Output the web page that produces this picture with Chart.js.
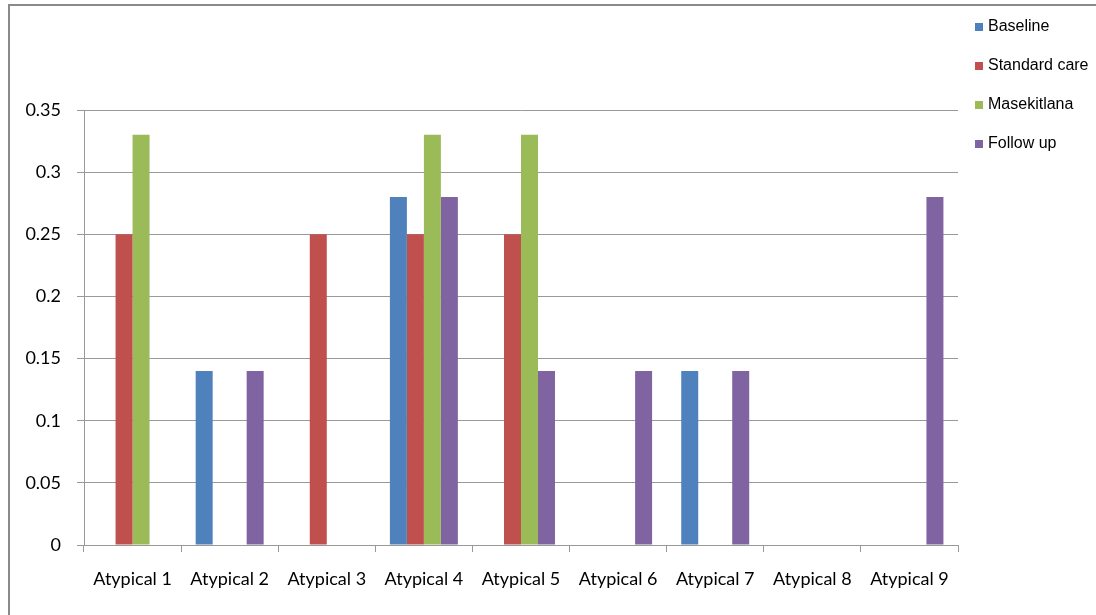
<!DOCTYPE html>
<html>
<head>
<meta charset="utf-8">
<script src="https://cdn.jsdelivr.net/npm/chart.js@4/dist/chart.umd.min.js"></script>
<style>
  html, body { margin: 0; padding: 0; background: #fff; }
  #wrap { position: relative; width: 1096px; height: 615px; overflow: hidden; }
  #frame { position: absolute; left: 8px; top: 4px; width: 1200px; height: 700px; border: 2px solid #8a8a8a; box-sizing: border-box; }
  canvas { position: absolute; left: 0; top: 0; }
  #legend { position: absolute; left: 975px; top: 17px; font-family: "Liberation Sans Narrow", "Liberation Sans", sans-serif; font-size: 16px; color: #000; }
  #legend div { height: 39px; display: flex; align-items: flex-start; white-space: nowrap; }
  #legend span.sw { display: inline-block; width: 8px; height: 8px; margin-right: 5px; margin-top: 6px; }
</style>
</head>
<body>
<div id="wrap">
  <div id="frame"></div>
  <canvas id="c" width="1096" height="615"></canvas>
  <div id="legend"></div>
</div>
<script>
const categories = ["Atypical 1","Atypical 2","Atypical 3","Atypical 4","Atypical 5","Atypical 6","Atypical 7","Atypical 8","Atypical 9"];
const seriesNames = ["Baseline","Standard care","Masekitlana","Follow up"];
const baseline     = [0, 0.14, 0, 0.28, 0, 0, 0.14, 0, 0];
const standardCare = [0.25, 0, 0.25, 0.25, 0.25, 0, 0, 0, 0];
const masekitlana  = [0.33, 0, 0, 0.33, 0.33, 0, 0, 0, 0];
const followUp     = [0, 0.14, 0, 0.28, 0.14, 0.14, 0.14, 0, 0.28];
const colors = ["#4F81BD", "#C0504D", "#9BBB59", "#8064A2"];
const values = [baseline, standardCare, masekitlana, followUp];

const leg = document.getElementById('legend');
seriesNames.forEach((n, i) => {
  const d = document.createElement('div');
  d.innerHTML = '<span class="sw" style="background:' + colors[i] + '"></span>' + n;
  leg.appendChild(d);
});

new Chart(document.getElementById('c'), {
  type: 'bar',
  data: {
    labels: categories,
    datasets: seriesNames.map((n, i) => ({
      label: n,
      data: values[i],
      backgroundColor: colors[i],
      borderWidth: 0,
      categoryPercentage: 0.7,
      barPercentage: 1.0
    }))
  },
  options: {
    responsive: false,
    animation: false,
    layout: { padding: { left: 0, right: 138, top: 110, bottom: 0 } },
    plugins: { legend: { display: false }, tooltip: { enabled: false } },
    scales: {
      x: {
        offset: true,
        grid: { offset: true, drawOnChartArea: false, drawTicks: true, tickLength: 7, color: '#999', lineWidth: 1 },
        border: { color: '#999', width: 1 },
        ticks: { color: '#000', font: { family: 'Lato', size: 18 }, padding: 16, maxRotation: 0, autoSkip: false },
        afterFit: s => { s.height = 70; }
      },
      y: {
        min: 0, max: 0.35,
        ticks: { stepSize: 0.05, color: '#000', font: { family: 'Lato', size: 18 }, padding: 16,
          callback: v => String(Math.round(v * 100) / 100) },
        grid: { color: '#999', lineWidth: 1, drawTicks: true, tickLength: 7 },
        border: { color: '#999', width: 1 },
        afterFit: s => { s.width = 84; }
      }
    }
  }
});
</script>
</body>
</html>
